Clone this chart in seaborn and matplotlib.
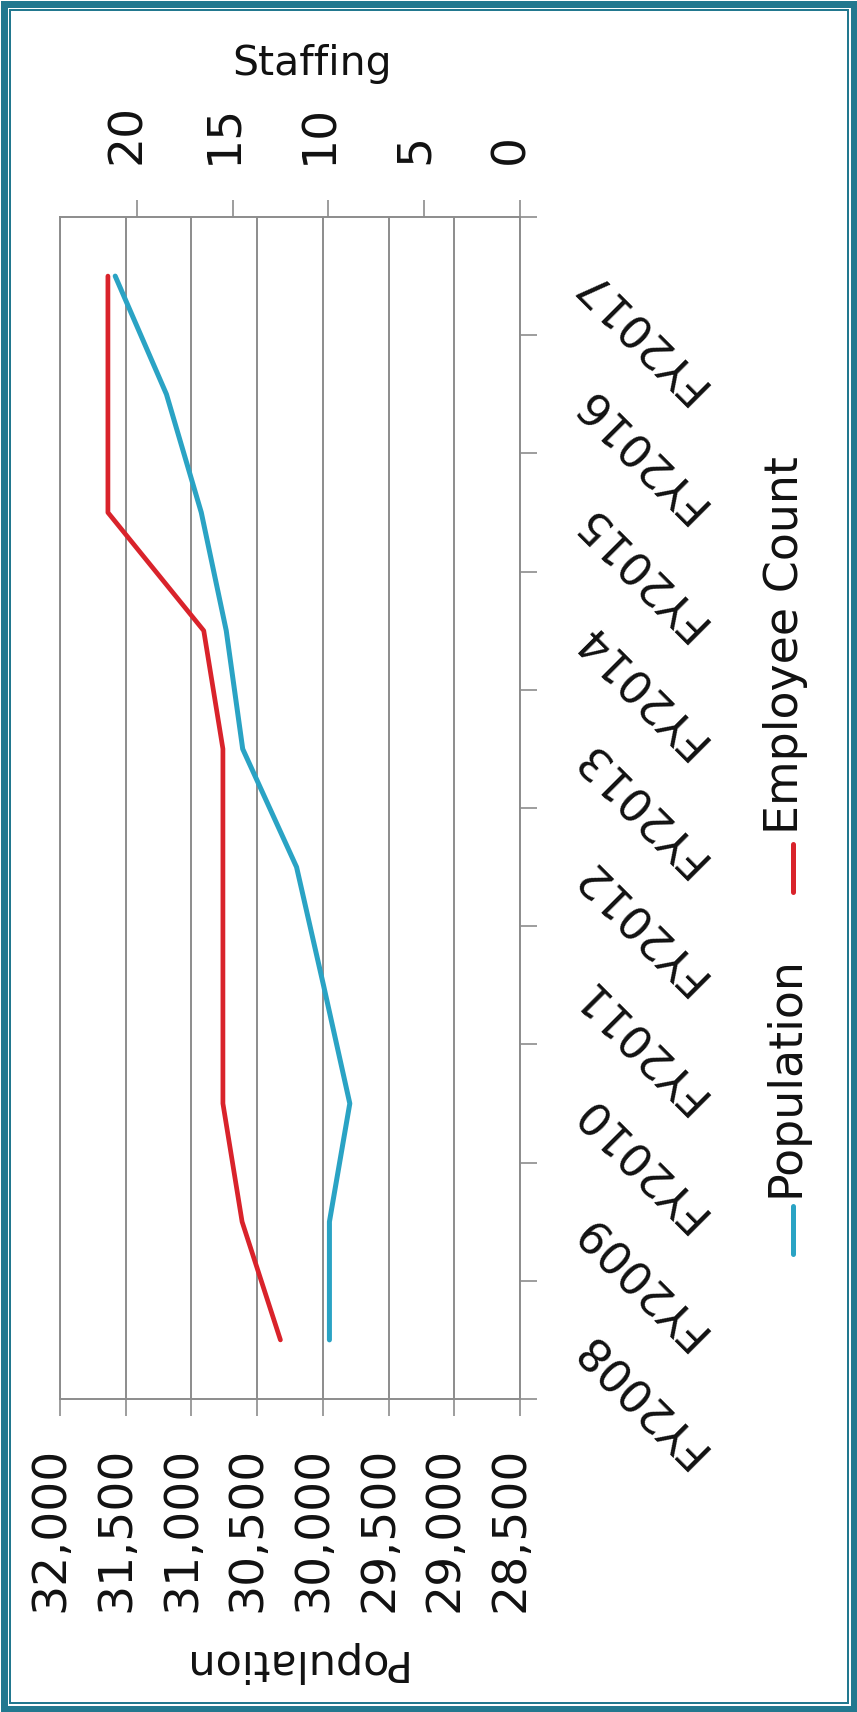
import matplotlib
matplotlib.use("Agg")
import matplotlib.pyplot as plt
from matplotlib.lines import Line2D
from matplotlib.patches import Rectangle
from matplotlib.transforms import ScaledTranslation
from matplotlib.ticker import FixedLocator, FuncFormatter
import pandas as pd
import seaborn as sns

# ---- data -------------------------------------------------------------
years = ["FY2008", "FY2009", "FY2010", "FY2011", "FY2012",
         "FY2013", "FY2014", "FY2015", "FY2016", "FY2017"]
population = [29950, 29950, 29795, 29995, 30200, 30610, 30735, 30925, 31190, 31580]
employee_count = [12.5, 14.5, 15.5, 15.5, 15.5, 15.5, 16.5, 21.5, 21.5, 21.5]
population_ticks = [28500, 29000, 29500, 30000, 30500, 31000, 31500, 32000]
staffing_ticks = [0, 5, 10, 15, 20]

# ---- style ------------------------------------------------------------
BLUE = "#2aa3c4"
RED = "#d9232b"
GRID = "#8c8c8c"
TEXT = "#111111"
TEAL = "#22788f"

sns.set_theme(style="white")
plt.rcParams["font.family"] = ["DejaVu Sans"]

W, H = 857, 1712
DPI = 100
fig = plt.figure(figsize=(W / DPI, H / DPI), dpi=DPI)
fig.patch.set_facecolor("white")


def px(v):
    """pixels -> points"""
    return v * 72.0 / DPI


# plot rectangle (pixels, origin top-left)
L, R, T, B = 60, 520, 217, 1399
ax = fig.add_axes([L / W, 1 - B / H, (R - L) / W, (B - T) / H])

df = pd.DataFrame({
    "pos": list(range(len(years))),
    "year": years,
    "Population": population,
    "Employee Count": employee_count,
})

# population runs along the (reversed) bottom axis, years up the page
sns.lineplot(data=df, x="Population", y="pos", orient="y", sort=False, ax=ax,
             color=BLUE, linewidth=3.6, solid_capstyle="round", zorder=3)
ax.set_xlim(32000, 28500)
ax.set_ylim(-0.5, len(years) - 0.5)
ax.set_xlabel("")
ax.set_ylabel("")

# staffing on a second (top) axis sharing the year positions
ax2 = ax.twiny()
sns.lineplot(data=df, x="Employee Count", y="pos", orient="y", sort=False, ax=ax2,
             color=RED, linewidth=3.4, solid_capstyle="round", zorder=3)
ax2.set_xlim(24, 0)
ax2.set_xlabel("")
ax2.set_ylabel("")
ax2.patch.set_visible(False)

# ---- population axis (bottom) ------------------------------------------
ax.xaxis.set_major_locator(FixedLocator(population_ticks))
ax.xaxis.set_major_formatter(FuncFormatter(lambda v, _: f"{v:,.0f}"))
ax.tick_params(axis="x", which="major", bottom=True, top=False, direction="out",
               length=px(17), width=1.2, color=GRID, labelsize=34,
               labelcolor=TEXT, labelrotation=90, pad=px(31))
ax.grid(axis="x", color=GRID, linewidth=1.4)
ax.grid(axis="y", visible=False)
for s in ax.spines.values():
    s.set_visible(True)
    s.set_color(GRID)
    s.set_linewidth(1.4)
for s in ax2.spines.values():
    s.set_visible(False)

# ---- year axis (right side) ---------------------------------------------
ax.yaxis.tick_right()
ax.set_yticks(df["pos"])
ax.set_yticklabels(df["year"])
ax.yaxis.set_minor_locator(FixedLocator([p - 0.5 for p in range(len(years) + 1)]))
ax.tick_params(axis="y", which="major", left=False, right=True, length=0,
               labelleft=False, labelright=True, labelsize=32.5,
               labelcolor=TEXT, pad=px(120))
ax.tick_params(axis="y", which="minor", left=False, right=True, direction="out",
               length=px(17), width=1.2, color=GRID)
year_shift = ScaledTranslation(0, -57 / DPI, fig.dpi_scale_trans)
for lab in ax.get_yticklabels():
    lab.set_rotation(135)
    lab.set_rotation_mode("default")
    lab.set_horizontalalignment("center")
    lab.set_verticalalignment("center")
    lab.set_transform(lab.get_transform() + year_shift)

# ---- staffing axis (top) ----------------------------------------------
ax2.xaxis.set_major_locator(FixedLocator(staffing_ticks))
ax2.xaxis.set_major_formatter(FuncFormatter(lambda v, _: f"{v:.0f}"))
ax2.tick_params(axis="x", which="major", top=True, bottom=False, direction="out",
                length=px(17), width=1.2, color=GRID, labelsize=34,
                labelcolor=TEXT, labelrotation=90, pad=px(36))

# rotated numbers sit slightly left of their ticks
num_shift = ScaledTranslation(-9 / DPI, 0, fig.dpi_scale_trans)
for lab in ax.get_xticklabels() + ax2.get_xticklabels():
    lab.set_transform(lab.get_transform() + num_shift)

# ---- titles -----------------------------------------------------------
fig.text(312 / W, 1 - 64 / H, "Staffing", ha="center", va="center",
         fontsize=29.5, color=TEXT)
fig.text(292 / W, 1 - 1662 / H, "Population", ha="center", va="center",
         rotation=180, fontsize=31, color=TEXT)

# ---- legend (reads bottom to top along the right edge) -----------------
legend_items = [("Population", BLUE, 1257, 1203, 1197),
                ("Employee Count", RED, 895, 841, 834)]
for label, color, y0, y1, ytext in legend_items:
    fig.add_artist(Line2D([793 / W, 793 / W], [1 - (y0 - 3) / H, 1 - (y1 + 3) / H],
                          transform=fig.transFigure, color=color, linewidth=3.6,
                          solid_capstyle="round"))
    fig.text(786 / W, 1 - ytext / H, label, ha="center", va="bottom",
             rotation=90, fontsize=33, color=TEXT)

# ---- double frame -----------------------------------------------------
def frame(inset, width_px):
    fig.add_artist(Rectangle((inset / W, inset / H), 1 - 2 * inset / W, 1 - 2 * inset / H,
                             transform=fig.transFigure, fill=False,
                             edgecolor=TEAL, linewidth=px(width_px)))

frame(3.5, 7)
frame(9.5, 2)

fig.savefig("out.png", dpi=DPI, facecolor="white")
